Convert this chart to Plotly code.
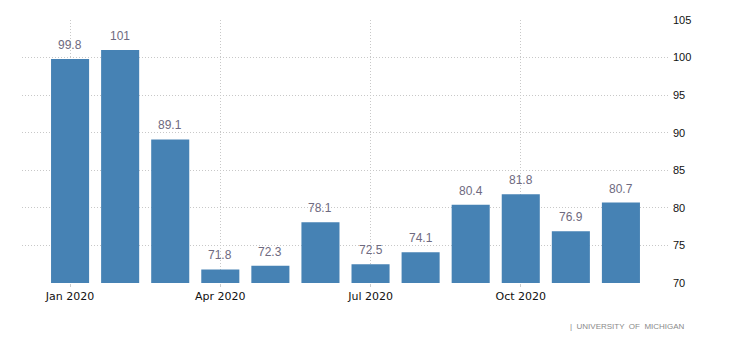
import plotly.graph_objects as go

months = ["Jan 2020", "Feb 2020", "Mar 2020", "Apr 2020", "May 2020", "Jun 2020",
          "Jul 2020", "Aug 2020", "Sep 2020", "Oct 2020", "Nov 2020", "Dec 2020"]
values = [99.8, 101, 89.1, 71.8, 72.3, 78.1, 72.5, 74.1, 80.4, 81.8, 76.9, 80.7]
labels = ["99.8", "101", "89.1", "71.8", "72.3", "78.1", "72.5", "74.1", "80.4", "81.8", "76.9", "80.7"]
tick_idx = [0, 3, 6, 9]
tick_text = ["Jan 2020", "Apr 2020", "Jul 2020", "Oct 2020"]
y_ticks = [70, 75, 80, 85, 90, 95, 100, 105]
source = "|  UNIVERSITY  OF  MICHIGAN"

xs = list(range(len(months)))

fig = go.Figure()
fig.add_trace(go.Bar(x=xs, y=values, base=0, marker=dict(color="#4682b4", line=dict(width=0)),
                     width=0.76, hoverinfo="skip"))

for xi, v, t in zip(xs, values, labels):
    fig.add_annotation(x=xi, y=v, text=t, showarrow=False, yanchor="bottom", yshift=5,
                       font=dict(family="Liberation Sans, Arial", size=12, color="#6e6a80"))

fig.add_annotation(xref="paper", yref="paper", x=1.027, y=-0.14, xanchor="right", yanchor="top",
                   text=source, showarrow=False,
                   font=dict(family="Liberation Sans, Arial", size=8, color="#8a8a8a"))

fig.update_layout(
    width=730, height=342,
    margin=dict(l=22, r=60, t=20, b=59),
    paper_bgcolor="white", plot_bgcolor="white",
    showlegend=False,
    xaxis=dict(range=[-0.96, 11.98], tickmode="array", tickvals=tick_idx, ticktext=tick_text,
               showgrid=True, gridcolor="#c8c8c8", griddash="1px,2px", gridwidth=1,
               ticks="outside", ticklen=3, tickcolor="#cccccc", zeroline=False,
               showline=False,
               tickfont=dict(family="DejaVu Sans", size=11, color="#111111")),
    yaxis=dict(range=[70, 105], side="right", tickmode="array", tickvals=y_ticks,
               showgrid=True, gridcolor="#c8c8c8", griddash="1px,2px", gridwidth=1,
               zeroline=False, showline=False, ticks="", ticklabelstandoff=2,
               tickfont=dict(family="Liberation Sans, Arial", size=11, color="#111111")),
)

fig.write_html("out.html")
